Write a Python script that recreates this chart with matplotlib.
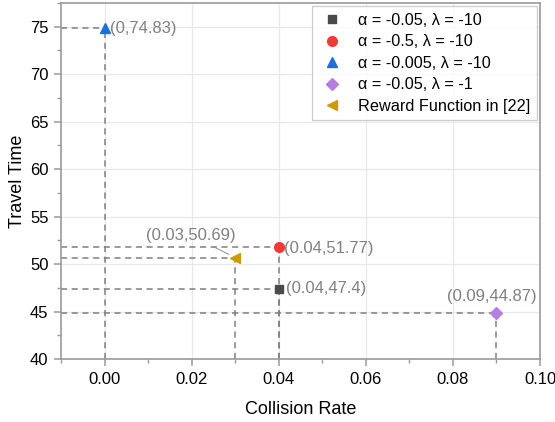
import matplotlib
matplotlib.use("Agg")
from matplotlib import pyplot as plt
from matplotlib.ticker import MultipleLocator

plt.rcParams["font.family"] = ["Liberation Sans", "DejaVu Sans"]

labels = ["α = -0.05, λ = -10", "α = -0.5, λ = -10", "α = -0.005, λ = -10",
          "α = -0.05, λ = -1", "Reward Function in [22]"]
collision = [0.04, 0.04, 0.0, 0.09, 0.03]
travel = [47.4, 51.77, 74.83, 44.87, 50.69]
ann_text = ["(0.04,47.4)", "(0.04,51.77)", "(0,74.83)", "(0.09,44.87)", "(0.03,50.69)"]
markers = ["s", "o", "^", "D", "<"]
colors = ["#4a4a4a", "#f03a3a", "#1f6fd8", "#b57fe0", "#cc9a06"]
sizes = [6, 7, 7, 6, 7]

xmin, ymin = -0.01, 40
dash_col = "#7f7f7f"

fig = plt.figure(figsize=(5.55, 4.22), dpi=100)
ax = fig.add_axes([0.110, 0.149, 0.863, 0.844])

for i in range(len(labels)):
    x, y = collision[i], travel[i]
    ax.plot([xmin, x], [y, y], linestyle=(0, (4, 3)), color=dash_col, lw=1.1, zorder=2)
    ax.plot([x, x], [ymin, y], linestyle=(0, (4, 3)), color=dash_col, lw=1.1, zorder=2)
    ax.plot(x, y, marker=markers[i], color=colors[i], ms=sizes[i], linestyle="none",
            label=labels[i], zorder=4)

# annotations
ann_color = "#808080"
fs = 12
ax.annotate(ann_text[0], (collision[0], travel[0]), xytext=(5, 0), textcoords="offset points",
            va="center", ha="left", color=ann_color, fontsize=fs)
ax.annotate(ann_text[1], (collision[1], travel[1]), xytext=(3.5, -1), textcoords="offset points",
            va="center", ha="left", color=ann_color, fontsize=fs)
ax.annotate(ann_text[2], (collision[2], travel[2]), xytext=(4, 0), textcoords="offset points",
            va="center", ha="left", color=ann_color, fontsize=fs)
ax.annotate(ann_text[3], (collision[3], travel[3]), xytext=(-3, 12), textcoords="offset points",
            va="center", ha="center", color=ann_color, fontsize=fs)
ax.annotate(ann_text[4], (collision[4], travel[4]), xytext=(-32, 16), textcoords="offset points",
            va="center", ha="center", color=ann_color, fontsize=fs,
            arrowprops=dict(arrowstyle="-", color="#909090", lw=0.7, shrinkA=2, shrinkB=5))

ax.set_xlim(-0.01, 0.10)
ax.set_ylim(40, 77.5)
ax.xaxis.set_major_locator(MultipleLocator(0.02))
ax.xaxis.set_minor_locator(MultipleLocator(0.01))
ax.yaxis.set_major_locator(MultipleLocator(5))
ax.yaxis.set_minor_locator(MultipleLocator(2.5))
ax.xaxis.set_major_formatter(plt.FormatStrFormatter("%.2f"))

ax.grid(True, which="major", color="#e8e8e8", lw=0.9, zorder=0)
ax.set_axisbelow(True)
for s in ax.spines.values():
    s.set_color("#9a9a9a")
    s.set_linewidth(1.2)
ax.tick_params(axis="both", which="major", direction="out", length=5, width=1.1,
               color="#9a9a9a", labelsize=12, labelcolor="black", pad=4)
ax.tick_params(axis="both", which="minor", direction="out", length=3, width=1.0,
               color="#9a9a9a")

ax.set_xlabel("Collision Rate", fontsize=13, labelpad=10)
ax.set_ylabel("Travel Time", fontsize=13, labelpad=3)

leg = ax.legend(loc="upper right", fontsize=11.7, frameon=True, fancybox=False,
                edgecolor="#bfbfbf", handletextpad=0.77, borderpad=0.4,
                labelspacing=0.4, handlelength=1.66, borderaxespad=0.2)
leg.get_frame().set_linewidth(0.9)

fig.savefig("out.png", dpi=100)
